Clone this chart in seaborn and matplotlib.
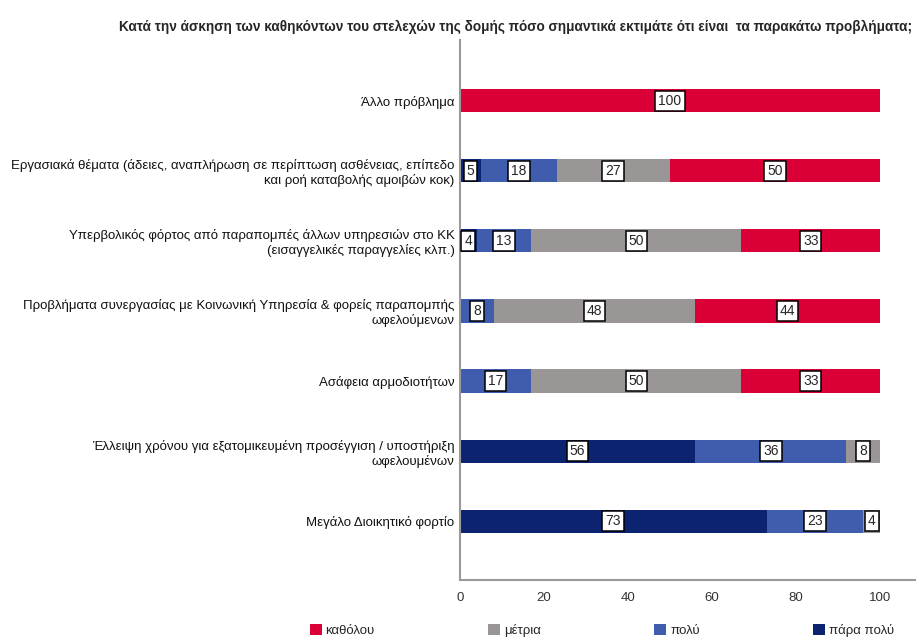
import numpy as np
import pandas as pd
import seaborn as sns
import matplotlib.pyplot as plt
from matplotlib.patches import Patch

# data (percent of respondents), top row first
categories = [
    "Άλλο πρόβλημα",
    "Εργασιακά θέματα (άδειες, αναπλήρωση σε περίπτωση ασθένειας, επίπεδο\nκαι ροή καταβολής αμοιβών κοκ)",
    "Υπερβολικός φόρτος από παραπομπές άλλων υπηρεσιών στο ΚΚ\n(εισαγγελικές παραγγελίες κλπ.)",
    "Προβλήματα συνεργασίας με Κοινωνική Υπηρεσία & φορείς παραπομπής\nωφελούμενων",
    "Ασάφεια αρμοδιοτήτων",
    "Έλλειψη χρόνου για εξατομικευμένη προσέγγιση / υποστήριξη\nωφελουμένων",
    "Μεγάλο Διοικητικό φορτίο",
]
para_poly = [0, 5, 4, 0, 0, 56, 73]
poly = [0, 18, 13, 8, 17, 36, 23]
metria = [0, 27, 50, 48, 50, 8, 4]
katholou = [100, 50, 33, 44, 33, 0, 0]

series_names = ["πάρα πολύ", "πολύ", "μέτρια", "καθόλου"]
series_vals = [para_poly, poly, metria, katholou]
colors = {"καθόλου": "#DA0037", "μέτρια": "#9A9695",
          "πολύ": "#3F5CAD", "πάρα πολύ": "#0C246F"}
legend_order = ["καθόλου", "μέτρια", "πολύ", "πάρα πολύ"]

sns.set_style("white")
plt.rcParams['font.family'] = ['Liberation Sans', 'DejaVu Sans']

fig = plt.figure(figsize=(9.19, 6.37), dpi=100)
ax = fig.add_axes([0.5005, 0.0895, 0.495, 0.848])

df = pd.DataFrame({"cat": categories})
vals = np.array(series_vals, dtype=float)
cum = np.cumsum(vals, axis=0)

# draw cumulative totals from the longest down so the layers stack
for i in range(len(series_names) - 1, -1, -1):
    df["x"] = cum[i]
    sns.barplot(data=df, x="x", y="cat", color=colors[series_names[i]],
                saturation=1, width=0.33, orient="h", ax=ax, linewidth=0)

# value labels in white boxes
for i, name in enumerate(series_names):
    for j in range(len(categories)):
        v = vals[i, j]
        if v <= 0:
            continue
        mid = cum[i, j] - v / 2
        ax.text(mid, j, f"{int(v)}", ha="center", va="center", fontsize=10,
                bbox=dict(boxstyle="square,pad=0.22", fc="white", ec="black", lw=1.1))

ax.set_xlim(0, 108.3)
ax.set_ylim(6.84, -0.87)
ax.set_xticks([0, 20, 40, 60, 80, 100])
ax.tick_params(axis="x", length=0, labelsize=9.5, colors="#333333", pad=9)
ax.tick_params(axis="y", length=0, labelsize=9.5, pad=4)
ax.set_xlabel("")
ax.set_ylabel("")
for lab in ax.get_yticklabels():
    lab.set_multialignment("right")
    lab.set_color("#111111")
for s in ["top", "right"]:
    ax.spines[s].set_visible(False)
for s in ["left", "bottom"]:
    ax.spines[s].set_color("#9a9a9a")
    ax.spines[s].set_linewidth(1.5)

fig.text(0.561, 0.957,
         "Κατά την άσκηση των καθηκόντων του στελεχών της δομής πόσο σημαντικά εκτιμάτε ότι είναι  τα παρακάτω προβλήματα;",
         ha="center", va="center", fontsize=9.8, fontweight="bold")

handles = [Patch(facecolor=colors[n], edgecolor="none", label=n) for n in legend_order]
fig.legend(handles=handles, loc="lower center", bbox_to_anchor=(0.655, -0.018), ncol=4,
           frameon=False, fontsize=9.5, handlelength=0.9, handleheight=0.9,
           handletextpad=0.3, columnspacing=8.6)

fig.savefig("out.png", dpi=100)
